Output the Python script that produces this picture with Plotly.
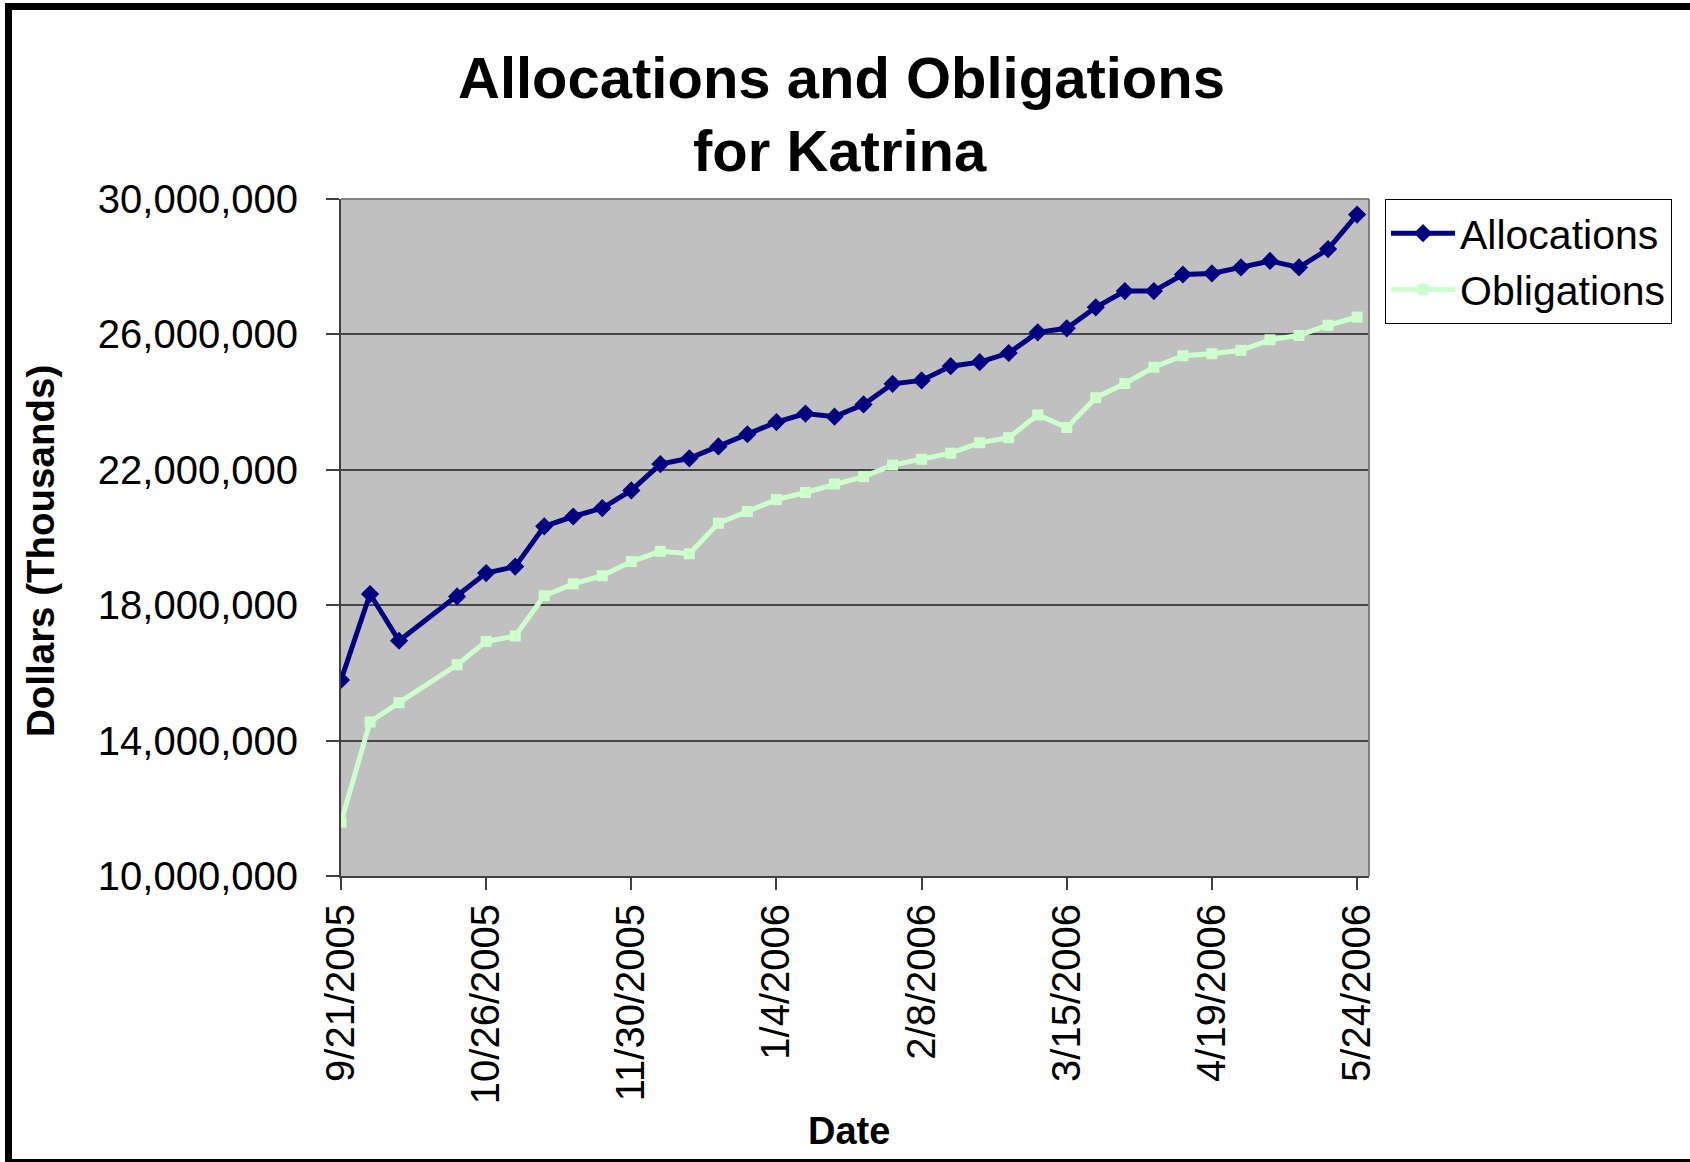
import plotly.graph_objects as go

# ---- data ----
dates = ['2005-09-21', '2005-09-28', '2005-10-05', '2005-10-19', '2005-10-26',
         '2005-11-02', '2005-11-09', '2005-11-16', '2005-11-23', '2005-11-30',
         '2005-12-07', '2005-12-14', '2005-12-21', '2005-12-28', '2006-01-04',
         '2006-01-11', '2006-01-18', '2006-01-25', '2006-02-01', '2006-02-08',
         '2006-02-15', '2006-02-22', '2006-03-01', '2006-03-08', '2006-03-15',
         '2006-03-22', '2006-03-29', '2006-04-05', '2006-04-12', '2006-04-19',
         '2006-04-26', '2006-05-03', '2006-05-10', '2006-05-17', '2006-05-24']

allocations = [15790000, 18330000, 16950000, 18260000, 18950000,
               19140000, 20330000, 20620000, 20870000, 21390000,
               22170000, 22340000, 22690000, 23050000, 23410000,
               23660000, 23570000, 23930000, 24540000, 24640000,
               25060000, 25180000, 25450000, 26060000, 26180000,
               26800000, 27280000, 27280000, 27770000, 27800000,
               27980000, 28170000, 27980000, 28520000, 29540000]

obligations = [11590000, 14550000, 15120000, 16240000, 16930000,
               17090000, 18280000, 18630000, 18870000, 19290000,
               19590000, 19520000, 20420000, 20770000, 21120000,
               21330000, 21580000, 21800000, 22140000, 22310000,
               22490000, 22800000, 22950000, 23620000, 23250000,
               24130000, 24550000, 25030000, 25370000, 25430000,
               25530000, 25840000, 25970000, 26270000, 26510000]

x_tick_dates = ['2005-09-21', '2005-10-26', '2005-11-30', '2006-01-04',
                '2006-02-08', '2006-03-15', '2006-04-19', '2006-05-24']
x_tick_labels = ['9/21/2005', '10/26/2005', '11/30/2005', '1/4/2006',
                 '2/8/2006', '3/15/2006', '4/19/2006', '5/24/2006']
y_tick_values = [10000000, 14000000, 18000000, 22000000, 26000000, 30000000]
y_tick_labels = ['10,000,000', '14,000,000', '18,000,000', '22,000,000',
                 '26,000,000', '30,000,000']

FONT = "Arial, 'Liberation Sans', sans-serif"

# ---- layout geometry (pixels) ----
W, H = 1690, 1162
L, R, T, B = 341, 1369, 199, 876
pw, ph = R - L, B - T


def px(xp):
    return (xp - L) / pw


def py(yp):
    return (B - yp) / ph


fig = go.Figure()
fig.add_trace(go.Scatter(
    x=dates, y=allocations, name='Allocations', mode='lines+markers',
    line=dict(color='#000080', width=5),
    marker=dict(symbol='diamond', size=14, color='#000080'),
))
fig.add_trace(go.Scatter(
    x=dates, y=obligations, name='Obligations', mode='lines+markers',
    line=dict(color='#CCFFCC', width=5),
    marker=dict(symbol='square', size=11, color='#CCFFCC'),
))

fig.update_layout(
    width=W, height=H,
    margin=dict(l=L, r=W - R, t=T, b=H - B, pad=0),
    paper_bgcolor='white',
    plot_bgcolor='#C0C0C0',
    font=dict(family=FONT, color='black'),
    showlegend=True,
    legend=dict(
        x=px(1385), y=1.0, xanchor='left', yanchor='top',
        font=dict(family=FONT, size=41, color='black'),
        bgcolor='white', bordercolor='black', borderwidth=1,
        itemwidth=64, tracegroupgap=0,
        entrywidth=235, entrywidthmode='pixels',
    ),
    xaxis=dict(
        type='date',
        range=['2005-09-21', '2006-05-26 21:00'],
        tickmode='array', tickvals=x_tick_dates, ticktext=x_tick_labels,
        tickangle=-90,
        tickfont=dict(family=FONT, size=40, color='black'),
        ticks='outside', ticklen=12, tickwidth=2, tickcolor='#404040',
        ticklabelstandoff=-2,
        showline=True, linecolor='#404040', linewidth=2,
        showgrid=False, zeroline=False,
    ),
    yaxis=dict(
        range=[10000000, 30000000],
        tickmode='array', tickvals=y_tick_values, ticktext=y_tick_labels,
        tickfont=dict(family=FONT, size=40, color='black'),
        ticks='outside', ticklen=13, tickwidth=2, tickcolor='#404040',
        ticklabelstandoff=20,
        showline=True, linecolor='#404040', linewidth=2,
        showgrid=True, gridcolor='#454545', gridwidth=1.5,
        zeroline=False,
    ),
    shapes=[
        # plot area border (top and right, gray)
        dict(type='line', xref='paper', yref='paper', x0=0, x1=1, y0=1, y1=1,
             line=dict(color='#808080', width=2), layer='above'),
        dict(type='line', xref='paper', yref='paper', x0=1, x1=1, y0=0, y1=1,
             line=dict(color='#808080', width=2), layer='above'),
        # outer black frame (top, left, bottom)
        dict(type='rect', xref='paper', yref='paper',
             x0=px(5), x1=px(1700), y0=py(3), y1=py(10),
             fillcolor='black', line=dict(width=0)),
        dict(type='rect', xref='paper', yref='paper',
             x0=px(5), x1=px(12), y0=py(3), y1=py(1170),
             fillcolor='black', line=dict(width=0)),
        dict(type='rect', xref='paper', yref='paper',
             x0=px(5), x1=px(1700), y0=py(1159), y1=py(1170),
             fillcolor='black', line=dict(width=0)),
    ],
    annotations=[
        dict(text='<b>Allocations and Obligations</b>', xref='paper', yref='paper',
             x=px(841), y=py(77), xanchor='center', yanchor='middle',
             showarrow=False, font=dict(family=FONT, size=58, color='black')),
        dict(text='<b>for Katrina</b>', xref='paper', yref='paper',
             x=px(840), y=py(150), xanchor='center', yanchor='middle',
             showarrow=False, font=dict(family=FONT, size=58, color='black')),
        dict(text='<b>Dollars (Thousands)</b>', xref='paper', yref='paper',
             x=px(40), y=py(551), xanchor='center', yanchor='middle',
             textangle=-90, showarrow=False,
             font=dict(family=FONT, size=38.5, color='black')),
        dict(text='<b>Date</b>', xref='paper', yref='paper',
             x=px(849), y=py(1131), xanchor='center', yanchor='middle',
             showarrow=False, font=dict(family=FONT, size=38, color='black')),
    ],
)

fig.write_html(
    "out.html",
    config={'displayModeBar': False},
    post_script="document.body.style.margin='0px';document.body.style.padding='0px';",
)
